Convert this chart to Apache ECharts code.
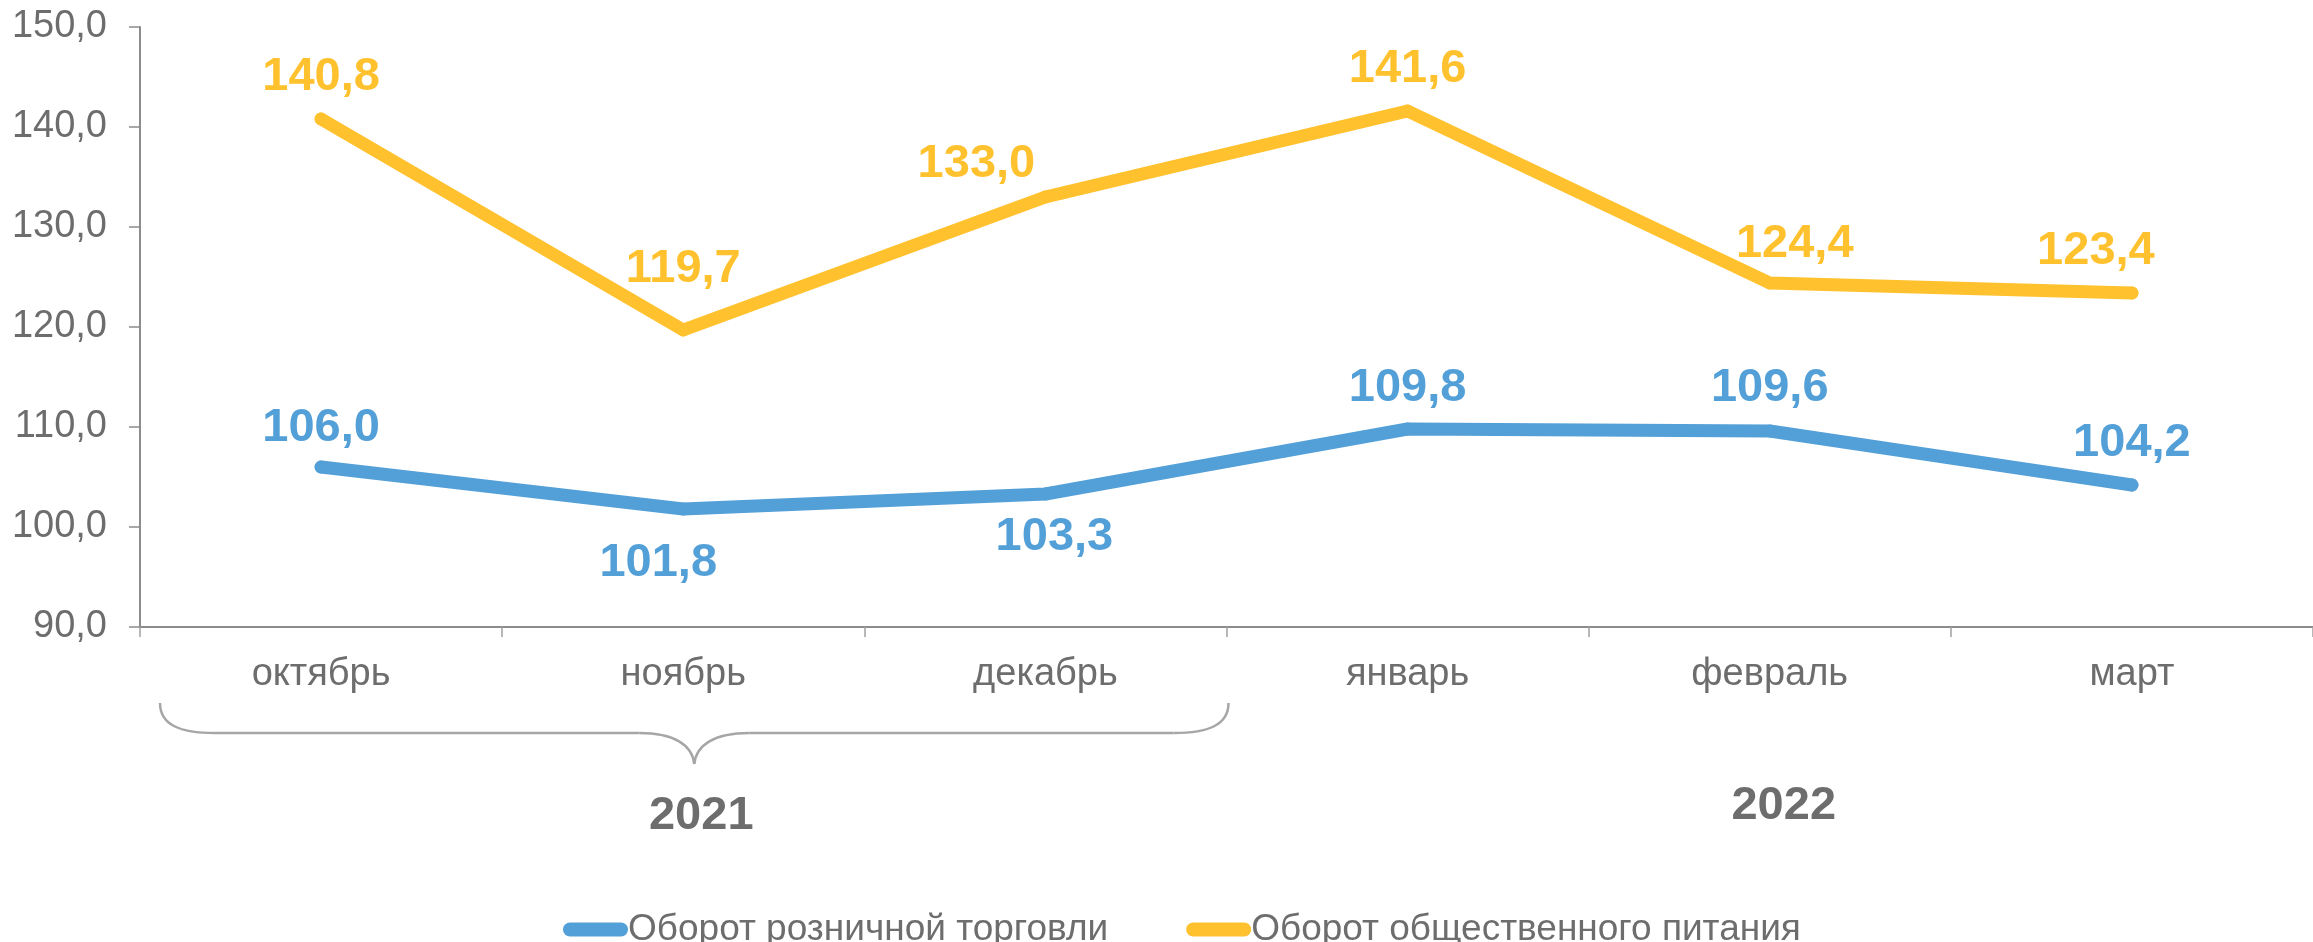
<!DOCTYPE html>
<html>
<head>
<meta charset="utf-8">
<script src="https://cdn.jsdelivr.net/npm/echarts@6/dist/echarts.min.js"></script>
<style>
  html, body { margin: 0; padding: 0; background: #fff; }
  #chart { width: 2313px; height: 942px; }
</style>
</head>
<body>
<div id="chart"></div>
<script>
// данные
var months = ['октябрь', 'ноябрь', 'декабрь', 'январь', 'февраль', 'март'];
var retail = [106.0, 101.8, 103.3, 109.8, 109.6, 104.2];
var catering = [140.8, 119.7, 133.0, 141.6, 124.4, 123.4];
var seriesNames = ['Оборот розничной торговли', 'Оборот общественного питания'];
var yearLabels = ['2021', '2022'];

var font = 'Liberation Sans, Arial, sans-serif';
var blue = '#539FD7';
var yellow = '#FFC22E';
var gray = '#6D6D6D';

// сдвиг подписей относительно точки
var retailShift = [[0, -39], [-25, 54], [9, 43], [0, -41], [0, -43], [0, -42]];
var cateringShift = [[0, -42], [0, -61], [-69, -33], [0, -42], [25, -39], [-36, -42]];

function fmt(v) {
    return v.toFixed(1).replace('.', ',');
}

function points(values, shifts) {
    return values.map(function (v, i) {
        return {
            value: v,
            label: { offset: shifts[i] }
        };
    });
}

function lineSeries(name, values, shifts, color) {
    return {
        name: name,
        type: 'line',
        data: points(values, shifts),
        symbol: 'circle',
        symbolSize: 13,
        lineStyle: { width: 13, color: color, cap: 'round', join: 'round' },
        itemStyle: { color: color },
        label: {
            show: true,
            position: 'inside',
            color: color,
            fontFamily: font,
            fontWeight: 'bold',
            fontSize: 47,
            formatter: function (p) { return fmt(p.value); }
        },
        emphasis: { disabled: true },
        animation: false
    };
}

var myChart = echarts.init(document.getElementById('chart'));

var option = {
    animation: false,
    grid: { left: 140, right: -18, top: 27, bottom: 315, containLabel: false },
    legend: {
        left: 558,
        top: 906,
        itemWidth: 65,
        itemHeight: 14,
        itemGap: 78,
        icon: 'path://M7,0 L58,0 A7,7 0 0 1 58,14 L7,14 A7,7 0 0 1 7,0 Z',
        textStyle: { color: gray, fontFamily: font, fontSize: 37, padding: [0, 0, 0, -5] },
        data: [
            { name: seriesNames[0], itemStyle: { color: blue } },
            { name: seriesNames[1], itemStyle: { color: yellow } }
        ]
    },
    xAxis: {
        type: 'category',
        data: months,
        axisLine: { lineStyle: { color: '#8C8C8C', width: 2 } },
        axisTick: { show: true, length: 10, lineStyle: { color: '#A0A0A0', width: 1.5 } },
        axisLabel: { color: gray, fontFamily: font, fontSize: 38, margin: 29 }
    },
    yAxis: {
        type: 'value',
        min: 90,
        max: 150,
        interval: 10,
        axisLine: { show: true, lineStyle: { color: '#8C8C8C', width: 2 } },
        axisTick: { show: true, length: 11, lineStyle: { color: '#8C8C8C', width: 1.5 } },
        splitLine: { show: false },
        axisLabel: {
            color: gray, fontFamily: font, fontSize: 38, margin: 33,
            formatter: function (v) { return fmt(v); }
        }
    },
    series: [
        lineSeries(seriesNames[0], retail, retailShift, blue),
        lineSeries(seriesNames[1], catering, cateringShift, yellow)
    ]
};

myChart.setOption(option);

// фигурная скобка под 2021 и подписи годов
var x0 = myChart.convertToPixel({ xAxisIndex: 0 }, months[0]);
var x2 = myChart.convertToPixel({ xAxisIndex: 0 }, months[2]);
var x4 = myChart.convertToPixel({ xAxisIndex: 0 }, months[4]);
var half = (x2 - x0) / 4;
var bl = x0 - half + 20, br = x2 + half + 2, bc = (bl + br) / 2;
var ty = 703, hy = 733, by = 764;
var braceStyle = { stroke: '#A6A6A6', lineWidth: 2.5, fill: null };

function curve(x1, y1, c1x, c1y, c2x, c2y, x2_, y2_) {
    return {
        type: 'bezierCurve', silent: true,
        shape: { x1: x1, y1: y1, cpx1: c1x, cpy1: c1y, cpx2: c2x, cpy2: c2y, x2: x2_, y2: y2_ },
        style: braceStyle
    };
}
function seg(x1, y1, x2_, y2_) {
    return {
        type: 'line', silent: true,
        shape: { x1: x1, y1: y1, x2: x2_, y2: y2_ },
        style: braceStyle
    };
}

myChart.setOption({
    graphic: [
        curve(bl, ty, bl, ty + 22, bl + 20, hy, bl + 55, hy),
        seg(bl + 55, hy, bc - 55, hy),
        curve(bc - 55, hy, bc - 20, hy, bc - 2, hy + 12, bc, by),
        curve(bc, by, bc + 2, hy + 12, bc + 20, hy, bc + 55, hy),
        seg(bc + 55, hy, br - 55, hy),
        curve(br - 55, hy, br - 20, hy, br, ty + 22, br, ty),
        {
            type: 'text',
            x: bc + 7, y: 816,
            style: {
                text: yearLabels[0], fill: gray, font: 'bold 47px ' + font,
                align: 'center', verticalAlign: 'middle'
            }
        },
        {
            type: 'text',
            x: x4 + 14, y: 806,
            style: {
                text: yearLabels[1], fill: gray, font: 'bold 47px ' + font,
                align: 'center', verticalAlign: 'middle'
            }
        }
    ]
});
</script>
</body>
</html>
